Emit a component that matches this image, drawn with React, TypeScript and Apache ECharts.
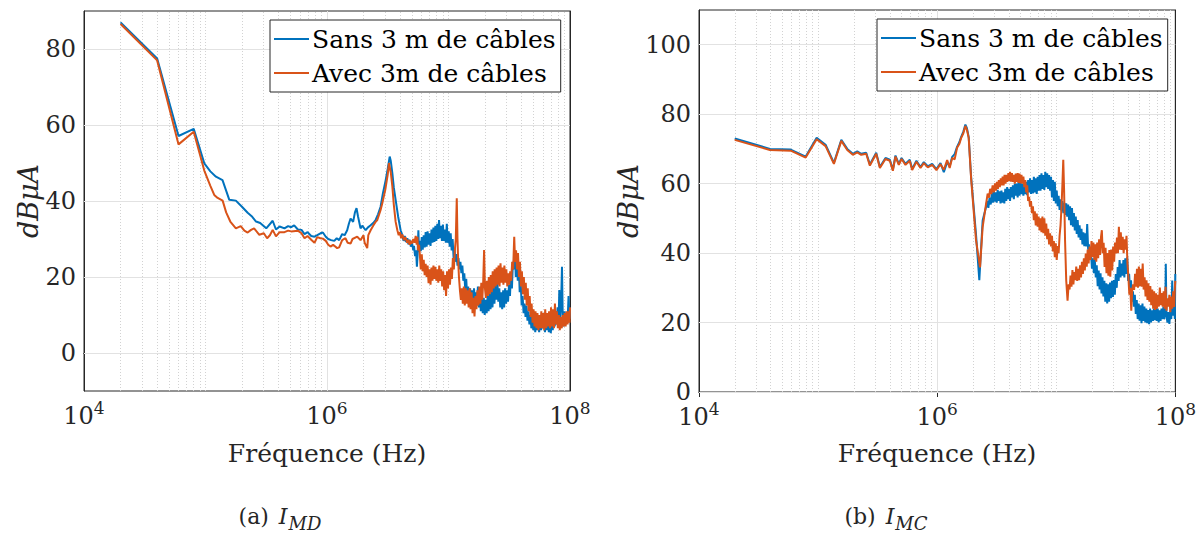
import React, { useEffect, useRef } from "react";
import * as echarts from "echarts";

// ---------- data: [log10(frequency in Hz), level in dBµA] ----------
const seriesNames = ["Sans 3 m de câbles", "Avec 3m de câbles"];

// (a) I_MD — Sans 3 m de câbles
const mdSans: number[][] = [
  [4.301, 87.0], [4.602, 77.5], [4.778, 57.1], [4.903, 59.0], [4.99, 49.9], [5.04, 47.8], [5.086, 46.4], [5.14, 45.5],
  [5.196, 40.3], [5.25, 40.1], [5.3, 38.5], [5.347, 36.9], [5.38, 36.0], [5.416, 34.6], [5.45, 34.2], [5.5, 32.8],
  [5.553, 34.8], [5.58, 32.5], [5.61, 33.3], [5.65, 32.8], [5.68, 33.4], [5.705, 33.1], [5.73, 33.6], [5.76, 32.5],
  [5.79, 32.4], [5.815, 31.3], [5.84, 31.8], [5.87, 30.8], [5.897, 30.6], [5.92, 31.0], [5.946, 31.5], [5.966, 31.7],
  [5.99, 30.6], [6.01, 30.0], [6.034, 29.7], [6.06, 29.5], [6.08, 30.2], [6.1, 29.7], [6.125, 31.3], [6.145, 31.0],
  [6.166, 32.3], [6.18, 34.0], [6.194, 35.4], [6.215, 34.5], [6.23, 37.0], [6.243, 38.1], [6.255, 36.0], [6.276, 32.8],
  [6.29, 33.5], [6.318, 32.3], [6.335, 33.0], [6.359, 33.6], [6.38, 34.2], [6.4, 35.0], [6.42, 36.5], [6.441, 38.5],
  [6.46, 42.0], [6.483, 45.5], [6.5, 48.5], [6.516, 51.7], [6.525, 50.5], [6.538, 47.3], [6.55, 43.5], [6.565, 40.3],
  [6.585, 36.0], [6.606, 32.3], [6.62, 31.0], [6.63, 29.5], [6.64, 30.8], [6.65, 29.2], [6.661, 30.2], [6.67, 28.6],
  [6.68, 29.8], [6.69, 28.0], [6.7, 29.0], [6.71, 27.0], [6.716, 28.2], [6.725, 25.5], [6.733, 27.0], [6.74, 22.7],
  [6.746, 26.0], [6.752, 32.3], [6.758, 26.5], [6.765, 29.5], [6.772, 26.8], [6.78, 30.5], [6.788, 27.2], [6.796, 31.0],
  [6.804, 27.8], [6.812, 31.8], [6.82, 28.0], [6.828, 32.0], [6.836, 28.5], [6.844, 31.5], [6.852, 28.2], [6.86, 32.5],
  [6.868, 29.0], [6.876, 33.0], [6.884, 29.2], [6.892, 33.5], [6.9, 29.5], [6.908, 34.0], [6.916, 30.0], [6.922, 35.0],
  [6.93, 30.2], [6.938, 33.5], [6.946, 29.5], [6.954, 33.8], [6.962, 29.5], [6.97, 32.5], [6.978, 29.0], [6.986, 34.0],
  [6.994, 29.0], [7.002, 32.0], [7.01, 28.0], [7.018, 31.5], [7.026, 27.0], [7.034, 30.0], [7.042, 25.0], [7.05, 27.5],
  [7.058, 24.0], [7.066, 26.0], [7.074, 23.0], [7.082, 25.0], [7.09, 22.0], [7.098, 24.0], [7.106, 21.0], [7.114, 23.0],
  [7.122, 19.0], [7.13, 21.0], [7.138, 16.5], [7.146, 19.5], [7.154, 14.5], [7.162, 17.5], [7.17, 12.5], [7.178, 17.0],
  [7.186, 13.0], [7.194, 16.5], [7.202, 12.0], [7.21, 17.0], [7.218, 13.0], [7.226, 16.0], [7.234, 12.5], [7.242, 17.5],
  [7.25, 12.0], [7.258, 16.5], [7.266, 11.0], [7.274, 15.0], [7.282, 10.5], [7.29, 14.5], [7.298, 10.0], [7.306, 14.0],
  [7.314, 10.5], [7.322, 15.0], [7.33, 11.0], [7.338, 15.5], [7.346, 11.5], [7.354, 17.0], [7.362, 12.0], [7.37, 18.0],
  [7.378, 13.0], [7.386, 18.5], [7.394, 14.0], [7.402, 19.0], [7.41, 13.5], [7.418, 17.0], [7.426, 12.0], [7.434, 16.0],
  [7.442, 11.5], [7.45, 16.5], [7.458, 12.0], [7.466, 17.0], [7.474, 13.0], [7.482, 16.5], [7.49, 13.5], [7.498, 18.0],
  [7.506, 15.0], [7.514, 21.0], [7.522, 17.0], [7.53, 24.0], [7.538, 22.0], [7.546, 27.0], [7.554, 20.0], [7.562, 25.0],
  [7.57, 19.0], [7.578, 23.5], [7.586, 16.0], [7.594, 19.0], [7.602, 12.5], [7.61, 15.0], [7.618, 10.5], [7.626, 13.0],
  [7.634, 9.5], [7.642, 12.5], [7.65, 8.5], [7.658, 11.0], [7.666, 7.5], [7.674, 10.0], [7.682, 6.5], [7.69, 9.5],
  [7.698, 6.0], [7.706, 9.0], [7.714, 5.5], [7.722, 9.0], [7.73, 6.0], [7.738, 9.5], [7.746, 5.5], [7.754, 9.5],
  [7.762, 6.0], [7.77, 10.0], [7.778, 6.5], [7.786, 9.5], [7.794, 5.5], [7.802, 10.0], [7.81, 6.0], [7.818, 9.0],
  [7.826, 5.5], [7.834, 8.5], [7.842, 5.2], [7.85, 9.0], [7.858, 6.0], [7.866, 10.0], [7.874, 7.0], [7.882, 11.0],
  [7.89, 7.5], [7.898, 12.0], [7.906, 8.0], [7.912, 16.6], [7.918, 9.0], [7.926, 12.0], [7.934, 22.7], [7.94, 10.0],
  [7.948, 7.0], [7.956, 11.0], [7.964, 7.5], [7.972, 10.5], [7.98, 8.0], [7.988, 15.0], [7.996, 9.0], [8.0, 12.0],
];

// (a) I_MD — Avec 3m de câbles
const mdAvec: number[][] = [
  [4.301, 86.6], [4.602, 77.0], [4.778, 54.9], [4.903, 58.2], [4.99, 48.0], [5.04, 44.0], [5.072, 41.6], [5.1, 40.8],
  [5.141, 40.1], [5.17, 37.0], [5.204, 34.6], [5.25, 32.8], [5.29, 33.4], [5.32, 32.2], [5.347, 31.7], [5.375, 32.4],
  [5.4, 32.8], [5.443, 31.1], [5.48, 31.5], [5.507, 30.2], [5.53, 31.0], [5.553, 32.4], [5.58, 30.7], [5.61, 31.8],
  [5.65, 31.8], [5.68, 32.2], [5.705, 32.0], [5.76, 32.2], [5.79, 31.5], [5.815, 30.2], [5.84, 30.8], [5.87, 29.8],
  [5.897, 29.0], [5.92, 30.5], [5.946, 30.2], [5.966, 30.1], [5.99, 29.5], [6.01, 28.5], [6.029, 28.0], [6.05, 28.5],
  [6.084, 27.6], [6.1, 27.8], [6.125, 29.7], [6.152, 30.2], [6.17, 29.0], [6.194, 28.8], [6.21, 30.0], [6.249, 30.6],
  [6.276, 29.7], [6.3, 31.0], [6.31, 29.0], [6.331, 27.6], [6.34, 31.0], [6.359, 32.3], [6.38, 33.5], [6.4, 34.5],
  [6.414, 35.0], [6.44, 37.5], [6.455, 39.4], [6.48, 43.0], [6.5, 47.0], [6.51, 50.0], [6.525, 47.5], [6.538, 43.8],
  [6.55, 39.0], [6.565, 34.5], [6.579, 32.3], [6.59, 31.0], [6.6, 31.8], [6.61, 30.2], [6.62, 31.2], [6.634, 29.7],
  [6.645, 30.5], [6.66, 29.0], [6.67, 29.8], [6.68, 28.5], [6.689, 29.5], [6.7, 28.8], [6.71, 30.0], [6.72, 29.0],
  [6.73, 30.8], [6.738, 28.5], [6.744, 30.6], [6.75, 27.0], [6.758, 28.5], [6.765, 25.4], [6.772, 22.0], [6.78, 26.0],
  [6.788, 21.5], [6.796, 24.5], [6.804, 20.5], [6.812, 23.5], [6.82, 20.0], [6.828, 23.0], [6.836, 18.4], [6.844, 22.0],
  [6.852, 18.0], [6.86, 22.5], [6.868, 19.0], [6.876, 23.0], [6.884, 19.5], [6.892, 22.7], [6.9, 19.0], [6.908, 22.0],
  [6.916, 18.5], [6.924, 23.0], [6.932, 19.0], [6.94, 22.0], [6.948, 17.5], [6.956, 21.5], [6.964, 16.5], [6.972, 20.5],
  [6.98, 15.0], [6.988, 21.5], [6.996, 17.0], [7.004, 22.0], [7.012, 18.0], [7.02, 22.5], [7.028, 19.5], [7.036, 25.0],
  [7.044, 22.0], [7.052, 27.0], [7.06, 30.0], [7.068, 40.7], [7.074, 30.0], [7.08, 24.0], [7.086, 20.0], [7.094, 16.5],
  [7.102, 14.0], [7.11, 17.0], [7.118, 13.0], [7.126, 17.5], [7.134, 12.5], [7.142, 17.0], [7.15, 13.0], [7.158, 16.5],
  [7.166, 12.0], [7.174, 17.0], [7.182, 11.5], [7.19, 16.0], [7.198, 10.5], [7.206, 14.5], [7.214, 9.6], [7.222, 15.0],
  [7.23, 11.5], [7.238, 16.5], [7.246, 12.5], [7.254, 17.5], [7.262, 13.0], [7.27, 18.5], [7.278, 14.0], [7.286, 19.0],
  [7.293, 27.1], [7.3, 17.0], [7.308, 14.5], [7.316, 19.0], [7.324, 15.0], [7.332, 20.0], [7.34, 15.5], [7.348, 20.5],
  [7.356, 16.0], [7.364, 21.5], [7.372, 17.0], [7.38, 22.0], [7.388, 17.5], [7.396, 22.5], [7.404, 18.0], [7.412, 23.0],
  [7.42, 17.5], [7.428, 23.6], [7.436, 18.5], [7.444, 22.5], [7.452, 18.0], [7.46, 23.0], [7.468, 18.5], [7.476, 22.0],
  [7.484, 17.5], [7.492, 21.0], [7.5, 18.0], [7.508, 21.5], [7.516, 19.0], [7.524, 24.0], [7.532, 22.0], [7.541, 30.6],
  [7.548, 24.0], [7.556, 27.0], [7.564, 22.0], [7.572, 26.3], [7.58, 20.0], [7.588, 24.0], [7.596, 17.5], [7.604, 21.5],
  [7.612, 15.5], [7.62, 20.0], [7.628, 14.0], [7.636, 18.5], [7.644, 12.5], [7.652, 17.0], [7.66, 11.0], [7.668, 15.0],
  [7.676, 9.5], [7.684, 13.0], [7.692, 8.0], [7.7, 11.5], [7.708, 7.0], [7.716, 11.0], [7.724, 6.5], [7.732, 10.5],
  [7.74, 6.0], [7.748, 10.0], [7.756, 6.5], [7.764, 11.0], [7.772, 6.5], [7.78, 10.5], [7.788, 6.0], [7.796, 11.5],
  [7.804, 6.5], [7.812, 10.5], [7.82, 7.0], [7.828, 11.0], [7.836, 6.5], [7.844, 12.0], [7.852, 7.0], [7.86, 11.5],
  [7.868, 6.5], [7.876, 13.0], [7.884, 7.5], [7.892, 11.0], [7.9, 6.5], [7.908, 10.0], [7.916, 6.0], [7.924, 9.5],
  [7.932, 6.5], [7.94, 10.0], [7.948, 7.0], [7.956, 10.5], [7.964, 7.0], [7.972, 11.0], [7.98, 7.5], [7.988, 11.0],
  [7.996, 8.0], [8.0, 12.0],
];

// (b) I_MC — Sans 3 m de câbles
const mcSans: number[][] = [
  [4.3, 73.0], [4.596, 70.0], [4.77, 69.8], [4.896, 67.8], [4.988, 73.2], [5.063, 71.2], [5.133, 66.0], [5.195, 72.6],
  [5.245, 70.0], [5.292, 68.6], [5.329, 69.3], [5.362, 68.6], [5.404, 68.9], [5.435, 65.5], [5.488, 68.9], [5.519, 64.8],
  [5.566, 67.4], [5.603, 66.9], [5.628, 64.0], [5.65, 68.1], [5.678, 65.7], [5.701, 67.4], [5.734, 65.7], [5.77, 66.9],
  [5.79, 64.2], [5.826, 66.6], [5.86, 64.8], [5.888, 66.2], [5.921, 65.0], [5.958, 65.7], [5.994, 64.2], [6.028, 65.9],
  [6.056, 63.3], [6.084, 66.2], [6.105, 65.0], [6.126, 67.7], [6.147, 68.5], [6.167, 70.6], [6.187, 72.0], [6.201, 73.4],
  [6.22, 75.0], [6.237, 77.0], [6.25, 76.0], [6.265, 73.4], [6.285, 62.0], [6.326, 45.5], [6.354, 32.2], [6.382, 49.4],
  [6.41, 53.2], [6.42, 55.0], [6.43, 53.0], [6.44, 56.0], [6.45, 54.0], [6.46, 57.5], [6.468, 54.5], [6.476, 58.0],
  [6.484, 54.8], [6.492, 57.5], [6.5, 54.5], [6.508, 58.2], [6.516, 55.0], [6.524, 57.8], [6.532, 54.3], [6.54, 58.0],
  [6.548, 54.5], [6.556, 57.5], [6.564, 54.3], [6.572, 58.5], [6.58, 55.0], [6.588, 59.0], [6.596, 55.5], [6.604, 58.5],
  [6.612, 55.0], [6.62, 59.0], [6.628, 56.0], [6.636, 59.5], [6.644, 55.5], [6.652, 60.0], [6.66, 56.5], [6.668, 60.0],
  [6.676, 56.0], [6.684, 60.6], [6.692, 56.5], [6.7, 60.5], [6.708, 57.0], [6.716, 60.0], [6.724, 56.5], [6.732, 61.0],
  [6.74, 57.0], [6.748, 60.5], [6.756, 56.7], [6.764, 61.0], [6.772, 57.5], [6.78, 61.5], [6.788, 57.0], [6.796, 61.0],
  [6.804, 57.2], [6.812, 62.0], [6.82, 57.5], [6.828, 61.5], [6.836, 57.0], [6.844, 62.0], [6.852, 58.0], [6.86, 62.5],
  [6.868, 58.0], [6.876, 63.0], [6.884, 58.5], [6.892, 62.5], [6.9, 58.2], [6.908, 63.4], [6.916, 59.0], [6.924, 63.0],
  [6.932, 58.5], [6.94, 62.5], [6.948, 58.0], [6.956, 62.0], [6.964, 56.0], [6.972, 61.0], [6.98, 55.0], [6.988, 60.5],
  [6.996, 54.3], [7.004, 58.0], [7.012, 53.5], [7.02, 56.5], [7.028, 52.4], [7.036, 55.5], [7.044, 52.0], [7.052, 55.0],
  [7.06, 51.5], [7.068, 54.5], [7.076, 51.0], [7.084, 54.3], [7.092, 50.5], [7.1, 54.0], [7.108, 49.5], [7.116, 53.5],
  [7.124, 48.0], [7.132, 53.0], [7.14, 47.6], [7.148, 51.5], [7.156, 46.5], [7.164, 50.5], [7.172, 45.5], [7.18, 49.5],
  [7.188, 44.5], [7.196, 48.0], [7.204, 43.8], [7.212, 47.0], [7.22, 42.5], [7.228, 46.0], [7.236, 42.0], [7.244, 45.7],
  [7.252, 41.9], [7.26, 48.4], [7.268, 41.0], [7.276, 42.5], [7.284, 38.0], [7.292, 40.0], [7.3, 35.5], [7.308, 38.5],
  [7.316, 34.2], [7.324, 38.0], [7.332, 33.0], [7.34, 36.5], [7.348, 30.5], [7.356, 35.0], [7.364, 29.5], [7.372, 34.2],
  [7.38, 28.4], [7.388, 33.0], [7.396, 27.5], [7.404, 32.0], [7.412, 26.0], [7.42, 31.3], [7.428, 25.5], [7.436, 31.0],
  [7.444, 26.0], [7.452, 31.5], [7.46, 27.0], [7.468, 32.0], [7.476, 27.4], [7.484, 32.2], [7.492, 28.0], [7.5, 34.0],
  [7.508, 30.0], [7.516, 36.0], [7.524, 32.0], [7.532, 38.0], [7.54, 33.0], [7.548, 37.0], [7.556, 33.5], [7.564, 38.0],
  [7.572, 33.0], [7.58, 38.5], [7.588, 34.0], [7.596, 38.8], [7.604, 32.0], [7.612, 34.0], [7.62, 29.0], [7.628, 32.2],
  [7.636, 26.0], [7.644, 29.0], [7.652, 24.6], [7.66, 28.0], [7.668, 22.5], [7.676, 26.5], [7.684, 21.0], [7.692, 25.5],
  [7.7, 20.5], [7.708, 25.0], [7.716, 19.8], [7.724, 25.5], [7.732, 20.5], [7.74, 24.6], [7.748, 20.0], [7.756, 24.0],
  [7.764, 19.8], [7.772, 23.6], [7.78, 19.5], [7.788, 24.0], [7.796, 20.0], [7.804, 23.5], [7.812, 20.5], [7.82, 24.0],
  [7.828, 20.7], [7.836, 24.6], [7.844, 20.5], [7.852, 24.0], [7.86, 20.0], [7.868, 23.5], [7.876, 20.5], [7.884, 24.0],
  [7.892, 21.0], [7.9, 24.6], [7.908, 21.0], [7.916, 25.0], [7.92, 36.9], [7.926, 22.0], [7.934, 20.0], [7.942, 23.0],
  [7.95, 19.6], [7.958, 23.5], [7.966, 21.0], [7.974, 32.1], [7.982, 22.0], [7.99, 25.0], [7.996, 21.0], [8.0, 34.0],
];

// (b) I_MC — Avec 3m de câbles
const mcAvec: number[][] = [
  [4.3, 72.6], [4.596, 69.7], [4.77, 69.5], [4.896, 67.5], [4.988, 72.8], [5.063, 70.8], [5.133, 65.7], [5.195, 72.3],
  [5.245, 69.7], [5.292, 68.3], [5.329, 69.0], [5.362, 68.3], [5.404, 68.6], [5.435, 65.2], [5.488, 68.6], [5.519, 64.5],
  [5.566, 67.1], [5.603, 66.6], [5.628, 63.7], [5.65, 67.8], [5.678, 65.4], [5.701, 67.1], [5.734, 65.4], [5.77, 66.6],
  [5.79, 63.9], [5.826, 66.3], [5.86, 64.5], [5.888, 65.9], [5.921, 64.7], [5.958, 65.4], [5.994, 63.9], [6.028, 65.6],
  [6.056, 64.0], [6.084, 66.8], [6.105, 64.5], [6.126, 67.4], [6.147, 67.0], [6.167, 70.3], [6.187, 71.5], [6.201, 73.1],
  [6.22, 74.5], [6.237, 76.6], [6.25, 75.5], [6.265, 73.1], [6.285, 61.5], [6.326, 43.8], [6.36, 35.9], [6.382, 47.5],
  [6.41, 54.0], [6.424, 57.1], [6.436, 56.0], [6.445, 58.5], [6.455, 57.0], [6.466, 59.5], [6.476, 57.5], [6.486, 60.1],
  [6.494, 58.0], [6.502, 60.5], [6.51, 58.5], [6.518, 61.0], [6.526, 59.0], [6.534, 61.5], [6.542, 59.5], [6.55, 62.0],
  [6.558, 59.5], [6.566, 62.5], [6.574, 60.0], [6.582, 62.5], [6.59, 60.5], [6.598, 63.0], [6.606, 60.8], [6.612, 63.4],
  [6.62, 60.6], [6.628, 63.0], [6.636, 60.5], [6.644, 62.5], [6.652, 60.0], [6.66, 62.9], [6.668, 60.5], [6.676, 63.0],
  [6.684, 60.2], [6.692, 62.9], [6.7, 60.1], [6.708, 62.5], [6.716, 60.0], [6.724, 62.0], [6.732, 59.0], [6.74, 61.0],
  [6.748, 57.5], [6.756, 59.5], [6.764, 55.0], [6.772, 56.2], [6.78, 53.4], [6.788, 55.0], [6.796, 51.5], [6.804, 53.5],
  [6.812, 49.5], [6.82, 52.0], [6.828, 48.0], [6.836, 51.4], [6.844, 47.6], [6.852, 50.5], [6.86, 46.5], [6.868, 50.0],
  [6.876, 46.0], [6.884, 50.5], [6.892, 45.7], [6.9, 50.0], [6.908, 45.0], [6.916, 48.5], [6.924, 44.0], [6.932, 47.0],
  [6.94, 42.5], [6.948, 45.7], [6.956, 41.9], [6.964, 45.0], [6.972, 40.5], [6.98, 43.5], [6.988, 38.8], [6.996, 42.8],
  [7.004, 38.0], [7.012, 42.0], [7.02, 40.0], [7.028, 45.0], [7.036, 48.0], [7.044, 53.2], [7.052, 60.0], [7.059, 66.9],
  [7.066, 58.0], [7.074, 43.6], [7.084, 32.0], [7.095, 26.3], [7.104, 31.0], [7.112, 29.5], [7.12, 33.5], [7.128, 30.3],
  [7.136, 35.1], [7.144, 31.0], [7.152, 34.5], [7.16, 32.2], [7.168, 36.1], [7.176, 32.0], [7.184, 35.5], [7.192, 32.2],
  [7.2, 36.5], [7.208, 33.0], [7.216, 37.5], [7.224, 34.0], [7.232, 38.5], [7.24, 35.0], [7.248, 39.9], [7.256, 36.1],
  [7.264, 41.0], [7.272, 37.0], [7.28, 41.9], [7.288, 38.0], [7.296, 43.5], [7.304, 38.9], [7.312, 43.0], [7.32, 38.0],
  [7.328, 42.5], [7.336, 37.5], [7.344, 43.0], [7.352, 38.5], [7.36, 44.0], [7.368, 39.5], [7.376, 44.7], [7.383, 46.6],
  [7.39, 40.0], [7.398, 43.0], [7.406, 36.0], [7.414, 41.5], [7.422, 34.2], [7.43, 40.0], [7.438, 33.5], [7.446, 40.9],
  [7.454, 33.2], [7.462, 41.0], [7.47, 35.0], [7.478, 41.9], [7.486, 37.5], [7.494, 43.0], [7.502, 39.9], [7.51, 44.5],
  [7.518, 40.0], [7.526, 47.6], [7.534, 41.0], [7.542, 46.0], [7.55, 40.9], [7.558, 44.7], [7.566, 40.0], [7.574, 44.0],
  [7.582, 41.0], [7.59, 45.0], [7.598, 37.0], [7.606, 33.0], [7.614, 28.0], [7.622, 30.0], [7.63, 23.4], [7.638, 29.4],
  [7.646, 31.0], [7.654, 29.4], [7.662, 34.0], [7.67, 30.3], [7.678, 35.5], [7.686, 30.0], [7.694, 36.1], [7.702, 30.5],
  [7.71, 35.5], [7.718, 30.3], [7.726, 37.0], [7.734, 29.5], [7.742, 33.0], [7.75, 27.5], [7.758, 32.2], [7.766, 26.5],
  [7.774, 31.3], [7.782, 26.0], [7.79, 30.5], [7.798, 25.0], [7.806, 29.5], [7.814, 24.0], [7.822, 29.0], [7.83, 23.6],
  [7.838, 28.4], [7.846, 24.0], [7.854, 28.0], [7.862, 24.6], [7.87, 30.1], [7.878, 25.0], [7.886, 28.5], [7.894, 24.6],
  [7.902, 29.0], [7.91, 24.0], [7.918, 30.3], [7.926, 23.4], [7.934, 27.0], [7.942, 24.6], [7.95, 28.0], [7.958, 23.0],
  [7.966, 27.5], [7.974, 24.0], [7.982, 29.0], [7.99, 24.5], [7.996, 30.0], [8.0, 32.0],
];

// axis ticks / grid positions
const xLabelHz = [1e4, 1e6, 1e8];
const majorGridHz = [1e6];
const minorGridHz = [
  2e4, 3e4, 4e4, 5e4, 6e4, 7e4, 8e4, 9e4,
  1e5, 2e5, 3e5, 4e5, 5e5, 6e5, 7e5, 8e5, 9e5,
  2e6, 3e6, 4e6, 5e6, 6e6, 7e6, 8e6, 9e6,
  1e7, 2e7, 3e7, 4e7, 5e7, 6e7, 7e7, 8e7, 9e7,
];
const mdYTicks = [0, 20, 40, 60, 80];
const mcYTicks = [0, 20, 40, 60, 80, 100];

const BLUE = "#0072BD";
const ORANGE = "#D95319";
const INK = "#262626";
const FONT = "DejaVu Serif";

function toHz(rows: number[][]) {
  return rows.map(([l, v]) => [Math.pow(10, l), v]);
}

export default function App() {
  const ref = useRef<HTMLDivElement>(null);

  useEffect(() => {
    if (!ref.current) return;
    const chart = echarts.init(ref.current, null, { renderer: "svg" });

    const xLabel = {
      show: true,
      margin: 8,
      color: INK,
      fontFamily: FONT,
      customValues: xLabelHz,
      formatter: (v: number) => {
        const e = Math.round(Math.log10(v));
        if (e % 2 !== 0) return "";
        return "{b|10}{s|" + e + "}";
      },
      rich: {
        b: { fontSize: 24, fontFamily: FONT, color: INK, verticalAlign: "bottom" },
        s: { fontSize: 17, fontFamily: FONT, color: INK, verticalAlign: "bottom", padding: [0, 0, 12, 0] },
      },
    };

    const mkX = (gridIndex: number, top: boolean) => ({
      type: "log",
      logBase: 10,
      gridIndex,
      min: 1e4,
      max: 1e8,
      position: top ? "top" : "bottom",
      axisLine: { show: true, lineStyle: { color: INK, width: 1 } },
      axisTick: { show: true, inside: true, length: 5, customValues: xLabelHz, lineStyle: { color: INK } },
      splitLine: { show: false },
      axisLabel: top ? { show: false } : xLabel,
    });

    const mkY = (gridIndex: number, right: boolean, min: number, max: number, ticks: number[]) => ({
      type: "value",
      gridIndex,
      min,
      max,
      splitNumber: 5,
      position: right ? "right" : "left",
      axisLine: { show: true, lineStyle: { color: INK, width: 1 } },
      axisTick: { show: true, inside: true, length: 5, customValues: ticks, lineStyle: { color: INK } },
      splitLine: { show: false },
      axisLabel: right
        ? { show: false }
        : {
            show: true,
            margin: 8,
            color: INK,
            fontFamily: FONT,
            fontSize: 24,
            customValues: ticks,
            formatter: (v: number) => String(v),
          },
    });

    const markSeries = (name: string, xAxisIndex: number, yAxisIndex: number, data: any[], lineStyle: any) => ({
      type: "line",
      name,
      xAxisIndex,
      yAxisIndex,
      data: [],
      silent: true,
      z: 1,
      markLine: {
        z: 1,
        silent: true,
        symbol: "none",
        label: { show: false },
        animation: false,
        lineStyle,
        data,
      },
    });

    const gridMarks = (xAxisIndex: number, yAxisIndex: number, yTicks: number[]) => [
      markSeries("grid-minor-" + xAxisIndex, xAxisIndex, yAxisIndex, minorGridHz.map((v) => ({ xAxis: v })), {
        color: "#d2d2d2", type: [1, 2], width: 1,
      }),
      markSeries(
        "grid-major-" + xAxisIndex,
        xAxisIndex,
        yAxisIndex,
        [...majorGridHz.map((v) => ({ xAxis: v })), ...yTicks.map((v) => ({ yAxis: v }))],
        { color: "#e2e2e2", type: "solid", width: 1 }
      ),
    ];

    const line = (name: string, color: string, xAxisIndex: number, yAxisIndex: number, data: number[][], z: number) => ({
      type: "line",
      name,
      xAxisIndex,
      yAxisIndex,
      data,
      symbol: "none",
      showSymbol: false,
      z,
      lineStyle: { color, width: 2 },
      itemStyle: { color },
      emphasis: { disabled: true },
    });

    const legendBase = {
      data: seriesNames,
      orient: "vertical",
      icon: "rect",
      z: 10,
      backgroundColor: "#ffffff",
      borderColor: INK,
      borderWidth: 1,
      borderRadius: 0,
      padding: [4, 5, 4, 4],
      itemWidth: 35,
      itemHeight: 2,
      itemGap: 4,
      selectedMode: false,
      textStyle: { fontFamily: FONT, fontSize: 25, color: "#000", lineHeight: 30, padding: [0, 0, 0, -2] },
    };

    const sub = (letter: string, idx: string) => ({
      text: "{r|" + letter + "}{i|I}{s|" + idx + "}",
      rich: {
        r: { fontFamily: FONT, fontSize: 22, fill: INK, verticalAlign: "bottom", padding: [0, 10, 5, 0] },
        i: { fontFamily: FONT, fontSize: 22, fontStyle: "italic", fill: INK, verticalAlign: "bottom", padding: [0, 1, 5, 0] },
        s: { fontFamily: FONT, fontSize: 18, fontStyle: "italic", fill: INK, verticalAlign: "bottom" },
      },
    });

    chart.setOption({
      animation: false,
      backgroundColor: "#ffffff",
      grid: [
        { left: 84, top: 11, width: 486, height: 380, show: true, borderColor: INK, borderWidth: 1, backgroundColor: "transparent" },
        { left: 699, top: 10, width: 477, height: 382, show: true, borderColor: INK, borderWidth: 1, backgroundColor: "transparent" },
      ],
      xAxis: [mkX(0, false), mkX(0, true), mkX(1, false), mkX(1, true)],
      yAxis: [
        mkY(0, false, -10, 90, mdYTicks),
        mkY(0, true, -10, 90, mdYTicks),
        mkY(1, false, 0, 110, mcYTicks),
        mkY(1, true, 0, 110, mcYTicks),
      ],
      legend: [
        { ...legendBase, left: 270, top: 20 },
        { ...legendBase, left: 877, top: 19 },
      ],
      series: [
        ...gridMarks(0, 0, mdYTicks),
        ...gridMarks(2, 2, mcYTicks),
        line(seriesNames[0], BLUE, 0, 0, toHz(mdSans), 3),
        line(seriesNames[1], ORANGE, 0, 0, toHz(mdAvec), 4),
        line(seriesNames[0], BLUE, 2, 2, toHz(mcSans), 3),
        line(seriesNames[1], ORANGE, 2, 2, toHz(mcAvec), 4),
      ],
      graphic: [
        { type: "text", x: 28, y: 201, rotation: Math.PI / 2, style: { text: "dBμA", fontFamily: FONT, fontSize: 27, fontStyle: "italic", fill: INK, align: "center", verticalAlign: "middle" } },
        { type: "text", x: 628, y: 201, rotation: Math.PI / 2, style: { text: "dBμA", fontFamily: FONT, fontSize: 27, fontStyle: "italic", fill: INK, align: "center", verticalAlign: "middle" } },
        { type: "text", x: 327, y: 453, style: { text: "Fréquence (Hz)", fontFamily: FONT, fontSize: 25, fill: INK, align: "center", verticalAlign: "middle" } },
        { type: "text", x: 937, y: 453, style: { text: "Fréquence (Hz)", fontFamily: FONT, fontSize: 25, fill: INK, align: "center", verticalAlign: "middle" } },
        { type: "text", x: 280, y: 519, style: { ...sub("(a)", "MD"), align: "center", verticalAlign: "middle" } },
        { type: "text", x: 886, y: 519, style: { ...sub("(b)", "MC"), align: "center", verticalAlign: "middle" } },
      ],
    });

    return () => chart.dispose();
  }, []);

  return <div ref={ref} style={{ position: "fixed", left: 0, top: 0, width: 1199, height: 536 }} />;
}
